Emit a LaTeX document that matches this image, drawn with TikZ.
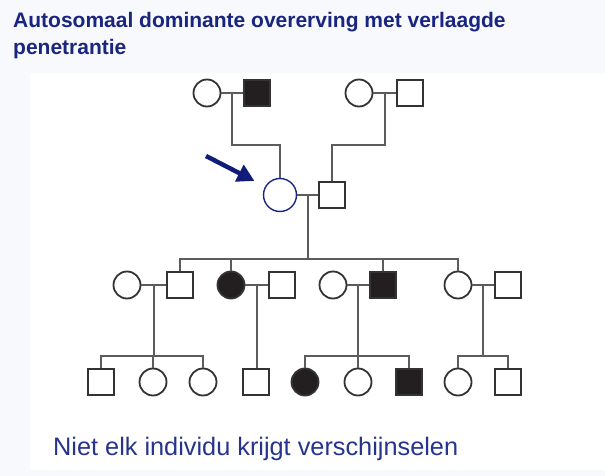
\documentclass[tikz,border=0pt]{standalone}
\usepackage{fontspec}
\setmainfont{Liberation Sans}
\usetikzlibrary{calc,arrows.meta}
\definecolor{titelblauw}{HTML}{1A2580}
\definecolor{tekstblauw}{HTML}{26348C}
\definecolor{pijlblauw}{HTML}{101C78}
\definecolor{rand}{HTML}{333333}
\definecolor{lijngrijs}{HTML}{5C5C5C}
\definecolor{zwart}{HTML}{231F20}
\definecolor{achter}{HTML}{F8F9FC}
\begin{document}
\begin{tikzpicture}[x=1pt, y=-1pt,
  man/.style={rectangle, draw=rand, fill=#1, line width=1.8pt,
    minimum size=26pt, inner sep=0pt},
  man/.default=white,
  vrouw/.style={circle, draw=rand, fill=#1, line width=1.8pt,
    minimum size=27pt, inner sep=0pt},
  vrouw/.default=white,
  lijn/.style={draw=lijngrijs, line width=1.7pt},
  pijl/.style={-{Triangle[length=17pt,width=18pt]}, draw=pijlblauw,
    line width=4.5pt}
]
\fill[achter] (0,0) rectangle (605,476);
\fill[white] (30,73) rectangle (605,470);

\node[anchor=north west, inner sep=0pt, align=left, text=titelblauw,
  font=\fontsize{21}{27}\selectfont\bfseries] (titel) at (13,12)
  {Autosomaal dominante overerving met verlaagde\\penetrantie};
\node[anchor=base west, inner sep=0pt, text=tekstblauw,
  font=\fontsize{25.3}{30}\selectfont] (onder) at (53,455)
  {Niet elk individu krijgt verschijnselen};

\node[vrouw] (gm1) at (207,93) {};
\node[man=zwart] (gf1) at (257,93) {};
\node[vrouw] (gm2) at (359,93) {};
\node[man] (gf2) at (410,93) {};

\node[vrouw, draw=titelblauw, line width=1.4pt, minimum size=33pt] (pb) at (280,195) {};
\node[man] (h) at (332,195) {};

\node[vrouw] (c1) at (127,285) {};
\node[man] (s1) at (180,285) {};
\node[vrouw=zwart] (s2) at (231,285) {};
\node[man] (c2) at (282,285) {};
\node[vrouw] (c3) at (333,285) {};
\node[man=zwart] (s3) at (383,285) {};
\node[vrouw] (s4) at (458,285) {};
\node[man] (c4) at (508,285) {};

\node[man] (d1) at (101,382) {};
\node[vrouw] (d2) at (153,382) {};
\node[vrouw] (d3) at (203,382) {};
\node[man] (d4) at (256,382) {};
\node[vrouw=zwart] (d5) at (305,382) {};
\node[vrouw] (d6) at (358,382) {};
\node[man=zwart] (d7) at (409,382) {};
\node[vrouw] (d8) at (458,382) {};
\node[man] (d9) at (508,382) {};

\coordinate (m1) at ($(gm1.east)!0.5!(gf1.west)$);
\coordinate (m2) at ($(gm2.east)!0.5!(gf2.west)$);
\coordinate (m3) at ($(pb.east)!0.5!(h.west)$);
\coordinate (m4) at ($(c1.east)!0.5!(s1.west)$);
\coordinate (m5) at ($(s2.east)!0.5!(c2.west)$);
\coordinate (m6) at ($(c3.east)!0.5!(s3.west)$);
\coordinate (m7) at ($(s4.east)!0.5!(c4.west)$);
\coordinate (sibII) at ($(m3)+(0,64)$);
\coordinate (sibA) at ($(m4)+(0,71)$);
\coordinate (sibC) at ($(m6)+(0,71)$);
\coordinate (sibD) at ($(m7)+(0,71)$);
\coordinate (pijlstart) at (206,156);

\draw[lijn] (gm1) -- (gf1);
\draw[lijn] (gm2) -- (gf2);
\draw[lijn] (m1) -- ++(0,52) -| (pb.north);
\draw[lijn] (m2) -- ++(0,52) -| (h.north);
\draw[lijn] (pb) -- (h);
\draw[lijn] (m3) -- (sibII);
\draw[lijn] (s1.north) |- (sibII) -| (s4.north);
\draw[lijn] (s2.north) -- (s2.north |- sibII);
\draw[lijn] (s3.north) -- (s3.north |- sibII);

\draw[lijn] (c1) -- (s1);
\draw[lijn] (s2) -- (c2);
\draw[lijn] (c3) -- (s3);
\draw[lijn] (s4) -- (c4);

\draw[lijn] (m4) -- (sibA);
\draw[lijn] (d1.north) |- (sibA) -| (d3.north);
\draw[lijn] (d2.north) -- (d2.north |- sibA);
\draw[lijn] (m5) -- (m5 |- d4.north);
\draw[lijn] (m6) -- (sibC);
\draw[lijn] (d5.north) |- (sibC) -| (d7.north);
\draw[lijn] (d6.north) -- (d6.north |- sibC);
\draw[lijn] (m7) -- (sibD);
\draw[lijn] (d8.north) |- (sibD) -| (d9.north);

\draw[pijl, shorten >=12pt] (pijlstart) -- (pb.150);
\end{tikzpicture}
\end{document}
